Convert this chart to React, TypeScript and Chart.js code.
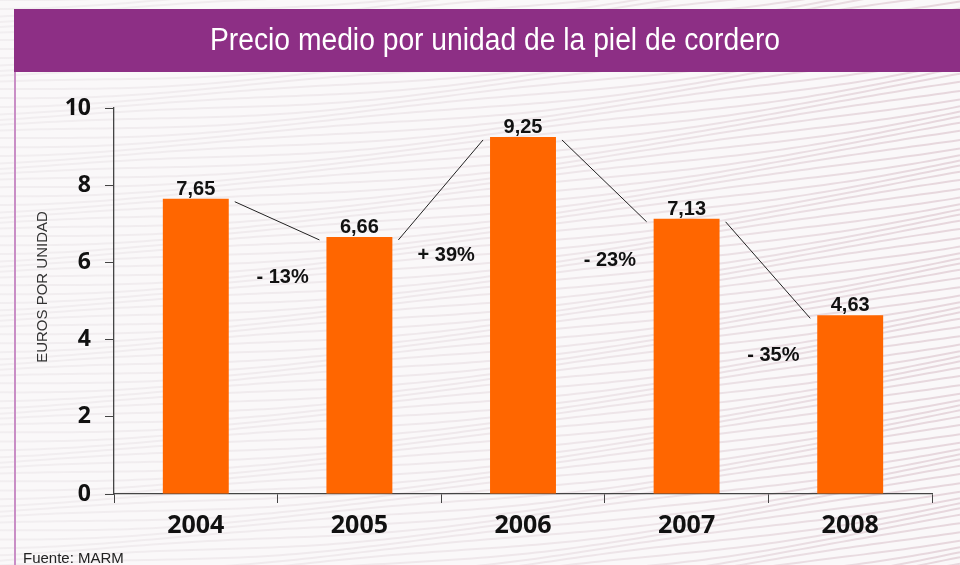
import React, { useEffect, useRef } from "react";
import { Chart, registerables } from "chart.js";

Chart.register(...registerables);

const years = ["2004", "2005", "2006", "2007", "2008"];
const prices = [7.65, 6.66, 9.25, 7.13, 4.63];
const priceLabels = ["7,65", "6,66", "9,25", "7,13", "4,63"];
const changeLabels = ["- 13%", "+ 39%", "- 23%", "- 35%"];
const changeLabelLevels = [5.62, 6.17, 6.06, 3.6];
const yTicks = [0, 2, 4, 6, 8, 10];

const TITLE = "Precio medio por unidad de la piel de cordero";
const Y_TITLE = "EUROS POR UNIDAD";
const SOURCE = "Fuente: MARM";

const W = 960;
const H = 565;

const decorPlugin = {
  id: "decor",
  beforeDraw(chart: any) {
    const ctx = chart.ctx as CanvasRenderingContext2D;
    ctx.save();
    ctx.fillStyle = "#FAF8F9";
    ctx.fillRect(0, 0, W, H);
    const grad = ctx.createLinearGradient(0, 0, W, 0);
    grad.addColorStop(0, "rgba(226,220,224,0.35)");
    grad.addColorStop(0.6, "rgba(226,212,218,0.5)");
    grad.addColorStop(1, "rgba(222,200,208,0.7)");
    ctx.strokeStyle = grad;
    ctx.lineWidth = 2;
    for (let k = -10; k < 130; k++) {
      ctx.beginPath();
      for (let x = 0; x <= W; x += 8) {
        const t = x / W;
        const y =
          k * 7 -
          x * 0.03 -
          t * t * 70 +
          2.5 * Math.sin(x / 70 + k * 0.9);
        if (x === 0) ctx.moveTo(x, y);
        else ctx.lineTo(x, y);
      }
      ctx.stroke();
    }
    // title band
    ctx.fillStyle = "#8D2F85";
    ctx.fillRect(14, 9, W - 14, 63);
    ctx.fillStyle = "#FFFFFF";
    ctx.font = '31px "Liberation Sans", Arial, sans-serif';
    ctx.textAlign = "center";
    ctx.textBaseline = "alphabetic";
    const tw = ctx.measureText(TITLE).width;
    const sx = 570 / tw;
    ctx.save();
    ctx.translate(495, 49.5);
    ctx.scale(sx, 1);
    ctx.fillText(TITLE, 0, 0);
    ctx.restore();
    // left border line
    ctx.strokeStyle = "#C98EC6";
    ctx.lineWidth = 2;
    ctx.beginPath();
    ctx.moveTo(15, 72);
    ctx.lineTo(15, H);
    ctx.stroke();
    ctx.restore();
  },
  afterDraw(chart: any) {
    const ctx = chart.ctx as CanvasRenderingContext2D;
    const meta = chart.getDatasetMeta(0);
    const yScale = chart.scales.y;
    ctx.save();
    // connectors
    ctx.strokeStyle = "#222";
    ctx.lineWidth = 1;
    for (let i = 0; i < meta.data.length - 1; i++) {
      const a = meta.data[i];
      const b = meta.data[i + 1];
      ctx.beginPath();
      ctx.moveTo(a.x + a.width / 2 + 6, a.y + 3);
      ctx.lineTo(b.x - b.width / 2 - 7, b.y + 3);
      ctx.stroke();
    }
    // value labels
    ctx.fillStyle = "#111";
    ctx.font = 'bold 20px "Liberation Sans", Arial, sans-serif';
    ctx.textAlign = "center";
    ctx.textBaseline = "alphabetic";
    meta.data.forEach((bar: any, i: number) => {
      ctx.fillText(priceLabels[i], bar.x, bar.y - 4);
    });
    // change labels
    ctx.font = 'bold 20px "Liberation Sans", Arial, sans-serif';
    ctx.textBaseline = "middle";
    changeLabels.forEach((lbl, i) => {
      const a = meta.data[i];
      const b = meta.data[i + 1];
      const x = (a.x + b.x) / 2 + 5;
      const y = yScale.getPixelForValue(changeLabelLevels[i]);
      ctx.fillText(lbl, x, y);
    });
    // y axis title
    ctx.save();
    ctx.translate(43, 287);
    ctx.rotate(-Math.PI / 2);
    ctx.font = '15px "Liberation Sans", Arial, sans-serif';
    ctx.fillStyle = "#333";
    ctx.textAlign = "center";
    ctx.textBaseline = "middle";
    ctx.fillText(Y_TITLE, 0, 0);
    ctx.restore();
    // source
    ctx.font = '15px "Liberation Sans", Arial, sans-serif';
    ctx.fillStyle = "#222";
    ctx.textAlign = "left";
    ctx.textBaseline = "alphabetic";
    ctx.fillText(SOURCE, 23, 563);
    ctx.restore();
  },
};

export default function App() {
  const ref = useRef<HTMLCanvasElement>(null);
  useEffect(() => {
    if (!ref.current) return;
    const chart = new Chart(ref.current, {
      type: "bar",
      data: {
        labels: years,
        datasets: [
          {
            data: prices,
            backgroundColor: "#FF6600",
            borderWidth: 0,
            barPercentage: 0.403,
            categoryPercentage: 1,
          },
        ],
      },
      options: {
        animation: false,
        responsive: false,
        devicePixelRatio: 1,
        layout: { padding: { top: 108, right: 28, left: 0, bottom: 0 } },
        plugins: {
          legend: { display: false },
          tooltip: { enabled: false },
          title: { display: false },
        },
        scales: {
          x: {
            offset: true,
            grid: {
              display: true,
              drawOnChartArea: false,
              offset: true,
              tickLength: 9,
              color: "#444",
              tickColor: "#444",
            },
            border: { display: true, color: "#444", width: 1.3 },
            ticks: {
              font: { family: '"Open Sans", sans-serif', weight: "bold", size: 25 },
              color: "#111",
              padding: 8,
              maxRotation: 0,
            },
            afterFit: (s: any) => {
              s.height = 71;
            },
          },
          y: {
            min: 0,
            max: 10,
            afterBuildTicks: (s: any) => {
              s.ticks = yTicks.map((v) => ({ value: v }));
            },
            grid: {
              display: true,
              drawOnChartArea: false,
              tickLength: 9,
              color: "#444",
              tickColor: "#444",
            },
            border: { display: true, color: "#444", width: 1.3 },
            ticks: {
              font: { family: '"Open Sans", sans-serif', weight: "bold", size: 23 },
              color: "#111",
              padding: 14,
            },
            afterFit: (s: any) => {
              s.width = 114;
            },
          },
        },
      },
      plugins: [decorPlugin],
    });
    return () => chart.destroy();
  }, []);
  return (
    <div style={{ position: "absolute", left: 0, top: 0, width: W, height: H }}>
      <canvas ref={ref} width={W} height={H} style={{ display: "block", width: W, height: H }} />
    </div>
  );
}
